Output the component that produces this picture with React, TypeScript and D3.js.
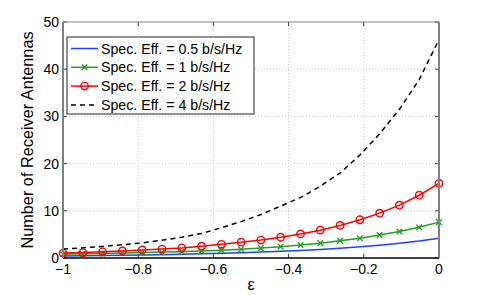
import React from 'react';
import * as d3 from 'd3';

// epsilon grid (20 points from -1 to 0)
const eps = [
  -1, -0.9474, -0.8947, -0.8421, -0.7895, -0.7368, -0.6842, -0.6316, -0.5789, -0.5263,
  -0.4737, -0.4211, -0.3684, -0.3158, -0.2632, -0.2105, -0.1579, -0.1053, -0.0526, 0,
];

const se05 = [0.42, 0.47, 0.52, 0.58, 0.64, 0.71, 0.8, 0.9, 1.0, 1.12, 1.26, 1.42, 1.6, 1.82, 2.07, 2.38, 2.72, 3.12, 3.6, 4.2];
const se1 = [0.8, 0.88, 0.96, 1.05, 1.15, 1.25, 1.35, 1.48, 1.65, 1.85, 2.1, 2.4, 2.75, 3.15, 3.65, 4.2, 4.85, 5.6, 6.5, 7.6];
const se2 = [1.05, 1.15, 1.3, 1.5, 1.7, 1.9, 2.12, 2.5, 2.9, 3.35, 3.8, 4.4, 5.1, 5.9, 6.9, 8.1, 9.5, 11.2, 13.3, 15.8];
const se4 = [1.9, 2.15, 2.45, 2.8, 3.2, 3.75, 4.4, 5.2, 6.4, 7.7, 9.2, 11.0, 12.8, 15.2, 18.0, 21.8, 26.3, 31.5, 37.8, 46.3];

const xTicks = [-1, -0.8, -0.6, -0.4, -0.2, 0];
const yTicks = [0, 10, 20, 30, 40, 50];

const series = [
  { label: 'Spec. Eff. = 0.5 b/s/Hz', values: se05, color: '#1f3fff', marker: 'none', dash: '' },
  { label: 'Spec. Eff. = 1 b/s/Hz', values: se1, color: '#1fa01f', marker: 'x', dash: '' },
  { label: 'Spec. Eff. = 2 b/s/Hz', values: se2, color: '#ff0000', marker: 'o', dash: '' },
  { label: 'Spec. Eff. = 4 b/s/Hz', values: se4, color: '#000000', marker: 'none', dash: '5,4' },
];

const W = 485;
const H = 295;
const margin = { top: 22, right: 46, bottom: 37, left: 63 };
const font = 'Liberation Sans, Arial, Helvetica, sans-serif';

const fmt = (v: number) => (v < 0 ? '\u2212' + String(Math.abs(v)) : String(v));

function Marker({ kind, x, y, color }: { kind: string; x: number; y: number; color: string }) {
  if (kind === 'o') {
    return <circle cx={x} cy={y} r={3.7} fill="none" stroke={color} strokeWidth={1.4} />;
  }
  if (kind === 'x') {
    const s = 2.8;
    return (
      <path
        d={`M${x - s},${y - s}L${x + s},${y + s}M${x - s},${y + s}L${x + s},${y - s}`}
        stroke={color}
        strokeWidth={1.4}
      />
    );
  }
  return null;
}

export default function App() {
  const iw = W - margin.left - margin.right;
  const ih = H - margin.top - margin.bottom;
  const x = d3.scaleLinear().domain([-1, 0]).range([margin.left, margin.left + iw]);
  const y = d3.scaleLinear().domain([0, 50]).range([margin.top + ih, margin.top]);
  const line = d3
    .line<number>()
    .x((_, i) => x(eps[i]))
    .y((d) => y(d));

  const left = margin.left;
  const right = margin.left + iw;
  const top = margin.top;
  const bottom = margin.top + ih;

  // legend box
  const lg = { x: 67, y: 37, w: 187, h: 77 };
  const rowH = 18.8;

  return (
    <div style={{ position: 'absolute', left: 0, top: 0 }}>
      <svg width={W} height={H} style={{ display: 'block', background: '#fff' }}>
        <rect width={W} height={H} fill="#fff" />
        {/* grid */}
        <g stroke="#cccccc" strokeWidth={1} strokeDasharray="1,2">
          {xTicks.slice(1, -1).map((t) => (
            <line key={'gx' + t} x1={x(t)} x2={x(t)} y1={top} y2={bottom} />
          ))}
          {yTicks.slice(1, -1).map((t) => (
            <line key={'gy' + t} x1={left} x2={right} y1={y(t)} y2={y(t)} />
          ))}
        </g>
        {/* ticks */}
        <g stroke="#333" strokeWidth={1}>
          {xTicks.map((t) => (
            <g key={'tx' + t}>
              <line x1={x(t)} x2={x(t)} y1={bottom} y2={bottom - 4} />
              <line x1={x(t)} x2={x(t)} y1={top} y2={top + 4} />
            </g>
          ))}
          {yTicks.map((t) => (
            <g key={'ty' + t}>
              <line x1={left} x2={left + 4} y1={y(t)} y2={y(t)} />
              <line x1={right} x2={right - 4} y1={y(t)} y2={y(t)} />
            </g>
          ))}
        </g>
        {/* series */}
        {series.map((s) => (
          <g key={s.label}>
            <path
              d={line(s.values) || ''}
              fill="none"
              stroke={s.color}
              strokeWidth={1.5}
              strokeDasharray={s.dash || undefined}
            />
            {s.marker !== 'none' &&
              s.values.map((v, i) => (
                <Marker key={i} kind={s.marker} x={x(eps[i])} y={y(v)} color={s.color} />
              ))}
          </g>
        ))}
        {/* box */}
        <line x1={left} x2={right} y1={top} y2={top} stroke="#808080" strokeWidth={1} />
        <line x1={left} x2={right} y1={bottom} y2={bottom} stroke="#000" strokeWidth={1.5} />
        <line x1={left} x2={left} y1={top} y2={bottom} stroke="#808080" strokeWidth={2} />
        <line x1={right} x2={right} y1={top} y2={bottom} stroke="#808080" strokeWidth={2} />
        {/* tick labels */}
        <g fontFamily={font} fontSize={14} fill="#000">
          {xTicks.map((t) => (
            <text key={'lx' + t} x={x(t)} y={bottom + 16} textAnchor="middle">
              {fmt(t)}
            </text>
          ))}
          {yTicks.map((t) => (
            <text key={'ly' + t} x={left - 4} y={y(t) + 5} textAnchor="end">
              {fmt(t)}
            </text>
          ))}
        </g>
        {/* axis titles */}
        <text x={(left + right) / 2} y={290} textAnchor="middle" fontFamily={font} fontSize={16}>
          ε
        </text>
        <text
          transform={`translate(${33},${(top + bottom) / 2}) rotate(-90)`}
          textAnchor="middle"
          fontFamily={font}
          fontSize={16.3}
        >
          Number of Receiver Antennas
        </text>
        {/* legend */}
        <rect x={lg.x} y={lg.y} width={lg.w} height={lg.h} fill="#fff" stroke="#222" strokeWidth={1} />
        {series.map((s, i) => {
          const cy = lg.y + 11.5 + i * rowH;
          const x1 = lg.x + 4;
          const x2 = lg.x + 31;
          return (
            <g key={'lg' + i}>
              <line
                x1={x1}
                x2={x2}
                y1={cy}
                y2={cy}
                stroke={s.color}
                strokeWidth={1.5}
                strokeDasharray={s.dash || undefined}
              />
              {s.marker !== 'none' && (
                <Marker kind={s.marker} x={(x1 + x2) / 2} y={cy} color={s.color} />
              )}
              <text x={lg.x + 34} y={cy + 5} fontFamily={font} fontSize={14.2}>
                {s.label}
              </text>
            </g>
          );
        })}
      </svg>
    </div>
  );
}
